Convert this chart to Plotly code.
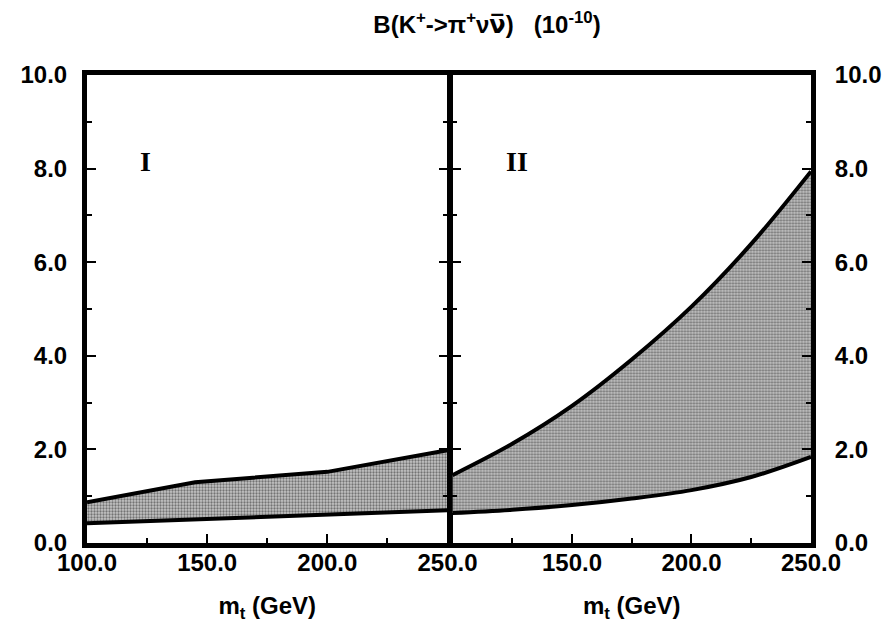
import plotly.graph_objects as go

# Panel I (left)
mt_I = [100, 145, 200, 225, 250]
upper_I = [0.87, 1.30, 1.52, 1.74, 1.98]
mt_I_low = [100, 150, 200, 250]
lower_I = [0.42, 0.51, 0.60, 0.70]

# Panel II (right)
mt_II = [100, 125, 150, 175, 200, 225, 250]
upper_II = [1.45, 2.12, 2.93, 3.92, 5.05, 6.39, 7.94]
lower_II = [0.64, 0.71, 0.81, 0.95, 1.13, 1.41, 1.84]

x_ticks_left = [100, 150, 200, 250]
x_ticks_right = [150, 200, 250]
y_ticks = [0, 2, 4, 6, 8, 10]

FONT = "Liberation Sans"
fill_pattern = dict(shape=".", fgcolor="#222222", bgcolor="#c4c4c4", size=3, solidity=0.45)

fig = go.Figure()

fig.add_trace(go.Scatter(x=mt_I_low, y=lower_I, mode="lines", line=dict(color="black", width=4),
                         xaxis="x", yaxis="y", showlegend=False, hoverinfo="skip"))
fig.add_trace(go.Scatter(x=mt_I, y=upper_I, mode="lines", line=dict(color="black", width=4),
                         fill="tonexty", fillcolor="#a8a8a8", fillpattern=fill_pattern,
                         xaxis="x", yaxis="y", showlegend=False, hoverinfo="skip"))

fig.add_trace(go.Scatter(x=mt_II, y=lower_II, mode="lines", line=dict(color="black", width=4, shape="spline"),
                         xaxis="x2", yaxis="y2", showlegend=False, hoverinfo="skip"))
fig.add_trace(go.Scatter(x=mt_II, y=upper_II, mode="lines", line=dict(color="black", width=4, shape="spline"),
                         fill="tonexty", fillcolor="#a8a8a8", fillpattern=fill_pattern,
                         xaxis="x2", yaxis="y2", showlegend=False, hoverinfo="skip"))

s_left = 363 / 729
s_right = 368 / 729

common_x = dict(range=[100, 250], ticks="inside", ticklen=9, tickwidth=2, tickcolor="black",
                showline=True, linewidth=5, linecolor="black", mirror=True, showgrid=False,
                zeroline=False, tickformat=".1f",
                minor=dict(dtick=25, tick0=100, ticks="inside", ticklen=5, tickwidth=2, tickcolor="black"),
                tickfont=dict(family=FONT, size=24, color="black", weight="bold"),
                ticklabelstandoff=-6,
                title=dict(font=dict(family=FONT, size=24, color="black", weight="bold"), standoff=24))
common_y = dict(range=[0, 10], tickvals=y_ticks, tickformat=".1f", ticks="inside", ticklen=9,
                tickwidth=2, tickcolor="black", showline=True, linewidth=5, linecolor="black",
                mirror="ticks", showgrid=False, zeroline=False,
                minor=dict(dtick=1, tick0=0, ticks="inside", ticklen=5, tickwidth=2, tickcolor="black"),
                tickfont=dict(family=FONT, size=24, color="black", weight="bold"))

title_text = ("B(K<sup>+</sup>->π<sup>+</sup>ν"
              "<span style='font-family:DejaVu Sans'>ν\u0305</span>)   (10<sup>-10</sup>)")

fig.update_layout(
    width=891, height=626,
    margin=dict(l=74, r=88, t=67, b=91),
    paper_bgcolor="white", plot_bgcolor="white",
    xaxis=dict(domain=[0, s_left], anchor="y", tickvals=x_ticks_left,
               title_text="m<sub>t</sub> (GeV)", **common_x),
    xaxis2=dict(domain=[s_right, 1], anchor="y2", tickvals=x_ticks_right,
                title_text="m<sub>t</sub> (GeV)", **common_x),
    yaxis=dict(domain=[0, 1], anchor="x", side="left", ticklabelstandoff=10, **common_y),
    yaxis2=dict(domain=[0, 1], anchor="x2", side="right", ticklabelstandoff=14, **common_y),
    title=dict(text=title_text,
               x=0.5376, xanchor="center", y=0.973, yanchor="middle",
               font=dict(family=FONT, size=24, color="black", weight="bold")),
    annotations=[
        dict(text="I", x=124.5, y=8.15, xref="x", yref="y", showarrow=False,
             font=dict(family="Liberation Serif", size=28, color="black", weight="bold")),
        dict(text="II", x=127, y=8.15, xref="x2", yref="y2", showarrow=False,
             font=dict(family="Liberation Serif", size=28, color="black", weight="bold")),
    ],
)

fig.write_html("out.html")
